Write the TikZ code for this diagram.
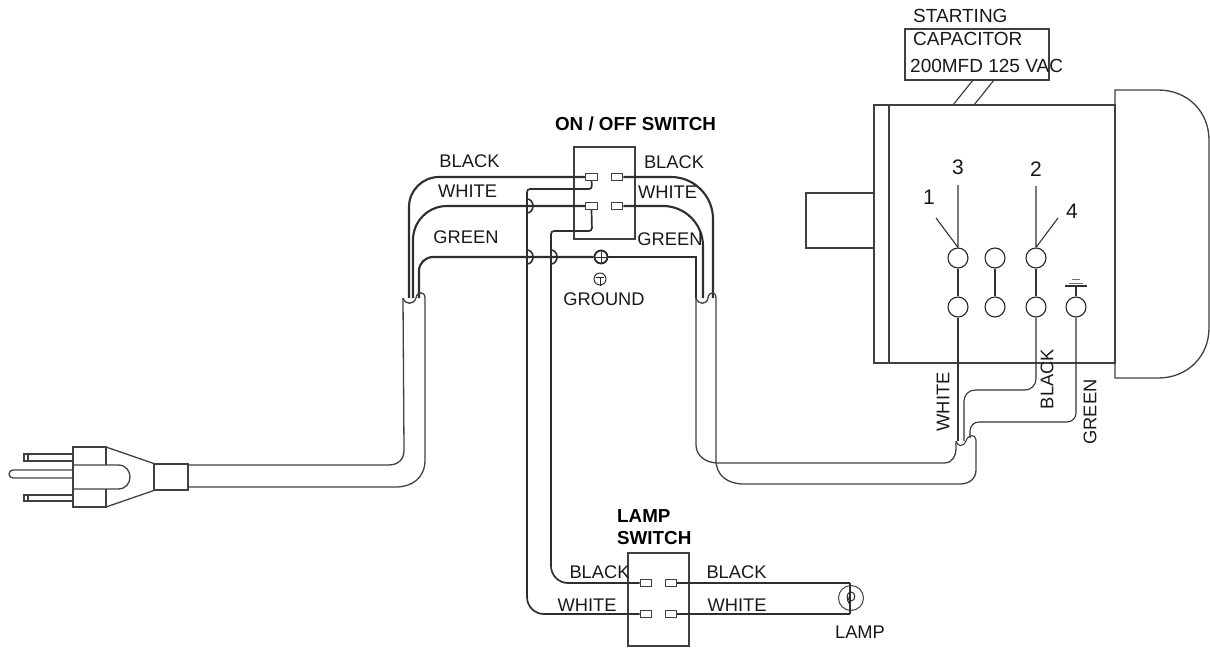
\documentclass[tikz,border=0pt]{standalone}
\usepackage{fontspec}
\setmainfont{Liberation Sans}
\tikzset{
  lbl/.style={inner sep=0pt,font=\fontsize{18.3}{20}\selectfont,text=black!90},
  caplbl/.style={inner sep=0pt,font=\fontsize{19}{20}\selectfont,text=black!90},
  numlbl/.style={inner sep=0pt,font=\fontsize{21}{22}\selectfont,text=black!90},
  blbl/.style={inner sep=0pt,font=\fontsize{18.8}{20}\selectfont\bfseries,text=black},
  wire/.style={draw=black!82,line width=2.1pt,rounded corners=26pt},
  thin wire/.style={draw=black!80,line width=1.1pt},
  outline/.style={draw=black!75,line width=1.3pt},
  term/.style={draw=black!75,line width=1.1pt,fill=white,minimum width=11.5pt,minimum height=6.5pt,inner sep=0pt},
  post/.style={circle,draw=black!85,line width=1.1pt,fill=white,minimum size=20pt,inner sep=0pt},
}
\begin{document}
\begin{tikzpicture}[x=1pt,y=-1pt]
\useasboundingbox (0,0) rectangle (1210,648);
% ---------- named points
\coordinate (LJ) at (409,298); \coordinate (LJ2) at (413,298); \coordinate (LJ3) at (419,298);
\coordinate (RJ) at (713,298); \coordinate (RJ2) at (703,298); \coordinate (RJ3) at (696,298);
\coordinate (MJw) at (958,441); \coordinate (MJb) at (964,441); \coordinate (MJg) at (970,438);
% ---------- switch boxes
\node[draw=black!75,line width=1.1pt,minimum width=61pt,minimum height=92pt,inner sep=0pt] (onoff) at (604.5,193) {};
\node[draw=black!75,line width=1.1pt,minimum width=61pt,minimum height=93pt,inner sep=0pt] (lampsw) at (658.5,599.5) {};
% ---------- terminals
\node[term] (a1) at (591.5,177) {};
\node[term] (a2) at (617,177) {};
\node[term] (a3) at (591.5,206) {};
\node[term] (a4) at (617,206) {};
\node[term] (b1) at (646,583) {};
\node[term] (b2) at (671,583) {};
\node[term] (b3) at (646,614) {};
\node[term] (b4) at (671,614) {};
% ---------- screw and lamp
\node[circle,draw=black!85,line width=1.8pt,fill=white,minimum size=13pt,inner sep=0pt] (screw) at (601,257) {};
\draw[black!80,line width=1pt] (screw.north) -- (screw.south) (screw.west) -- (screw.east);
\node[circle,draw=black!75,line width=1pt,minimum size=25pt,inner sep=0pt] (lamp) at (851,598) {};
\coordinate (lampT) at (850,583); \coordinate (lampB) at (850,614);
% ---------- mains and motor wires inside the left cable
\draw[wire,rounded corners=30pt] (a1.west) -- (409,177) -- (LJ);
\draw[wire,rounded corners=34pt] (a3.west) -- (413,206) -- (LJ2);
\draw[wire,rounded corners=14pt] (screw.west) -- (419,257) -- (LJ3);
\draw[wire,rounded corners=42pt] (a2.east) -- (713,177) -- (RJ);
\draw[wire,rounded corners=40pt] (a4.east) -- (703,206) -- (RJ2);
\draw[wire,rounded corners=0pt] (screw.east) -- (696,257) -- (RJ3);
% ---------- lamp switch wires
\draw[wire,rounded corners=3pt,line width=1.7pt] (a1.south) -- (592,189) -- (527,189) -- (527,300);
\draw[wire,rounded corners=3pt,line width=1.7pt] (a3.south) -- (592,231) -- (551,231) -- (551,300);
\draw[wire,rounded corners=17pt,line width=1.7pt] (527,290) -- (527,614) -- (b3.west);
\draw[wire,rounded corners=17pt,line width=1.7pt] (551,290) -- (551,583) -- (b1.west);
\draw[wire,rounded corners=0pt] (b2.east) -- (lampT);
\draw[wire,rounded corners=0pt] (b4.east) -- (lampB);
\draw[thin wire] (lampT) -- (lampB);
% hops
\draw[wire,rounded corners=0pt,line width=1.6pt] (527,199) arc[start angle=90,end angle=-90,x radius=6pt,y radius=7pt];
\draw[wire,rounded corners=0pt,line width=1.6pt] (527,250) arc[start angle=90,end angle=-90,x radius=6pt,y radius=7pt];
\draw[wire,rounded corners=0pt,line width=1.6pt] (551,250) arc[start angle=90,end angle=-90,x radius=6pt,y radius=7pt];
% filament
\draw[black!85,line width=1pt] (850,605) .. controls (846,600) and (846,592) .. (851,592) .. controls (856,592) and (856,601) .. (851,601) .. controls (848,601) and (848,596) .. (851,596);
% ---------- cables
\draw[outline] (403,298) -- (404,450) .. controls (404,460) and (398,465) .. (388,465) -- (188,465);
\draw[outline] (425,298) -- (425,460) .. controls (425,478) and (412,487) .. (396,487) -- (188,487);
\draw[outline] (403,298) .. controls (405,305) and (414,305) .. (416,298) .. controls (417,291) and (425,291) .. (425,298);
\draw[outline] (696,298) -- (696,445) .. controls (696,456) and (706,463) .. (718,463) -- (945,463) .. controls (952,463) and (956,456) .. (956,448) -- (956,441);
\draw[outline] (716,298) -- (716,460) .. controls (716,476) and (728,484) .. (744,484) -- (960,484) .. controls (970,484) and (976,478) .. (976,470) -- (976,440);
\draw[outline] (696,298) .. controls (698,305) and (707,305) .. (708,298) .. controls (709,291) and (716,291) .. (716,298);
\draw[outline,line width=1.1pt] (956,441) .. controls (957,447) and (964,447) .. (966,441) .. controls (968,434) and (976,434) .. (976,440);
% ---------- plug
\node[outline,minimum width=34pt,minimum height=26pt,inner sep=0pt] (collar) at (171,477) {};
\draw[outline] (106,465) -- (106,447) -- (73,447) -- (73,507) -- (106,507) -- (106,489);
\draw[outline] (106,447) -- (collar.north west) (106,507) -- (collar.south west);
\draw[outline] (73,465) -- (118,465) .. controls (126,465) and (130,471) .. (130,477) .. controls (130,483) and (126,489) .. (118,489) -- (73,489);
\draw[outline] (73,454) -- (24,454) -- (24,461) -- (73,461) (28,454) -- (28,461);
\draw[outline] (73,495) -- (24,495) -- (24,501) -- (73,501) (28,495) -- (28,501);
\draw[outline] (73,470) -- (13,470) arc[start angle=90,end angle=270,radius=4pt] -- (73,478);
% ---------- motor
\draw[outline] (874,105) rectangle (1115,363);
\draw[outline] (889,105) -- (889,363);
\draw[outline] (874,193) -- (806,193) -- (806,248) -- (874,248);
\draw[outline] (1115,90) -- (1158,90) .. controls (1188,90) and (1209,112) .. (1209,140) -- (1209,328) .. controls (1209,356) and (1188,378) .. (1158,378) -- (1115,378) -- cycle;
% capacitor
\node[outline,minimum width=144pt,minimum height=51pt,inner sep=0pt,line width=1.1pt] (cap) at (977,54.5) {};
\coordinate (capA) at (973,80); \coordinate (capB) at (994,80);
\coordinate (motA) at (953,105); \coordinate (motB) at (974,105);
\draw[thin wire] (capA) -- (motA) (capB) -- (motB);
% posts
\node[post] (p1) at (958,258) {};
\node[post] (p2) at (995,258) {};
\node[post] (p3) at (1036,258) {};
\node[post] (q1) at (958,307) {};
\node[post] (q2) at (995,307) {};
\node[post] (q3) at (1036,307) {};
\node[post] (q4) at (1076,307) {};
\draw[thin wire] (p1) -- (q1) (p2) -- (q2) (p3) -- (q3);
\draw[thin wire] (958,185) -- (p1.north) (936,218) -- (p1.north);
\draw[thin wire] (1036,186) -- (p3.north) (1058,218) -- (p3.north);
\draw[thin wire] (q4.north) -- (1076,286);
\draw[thin wire] (1065,286) -- (1087,286);
\draw[black!55,line width=1pt] (1069,283) -- (1083,283) (1072,279.5) -- (1080,279.5);
% motor leads
\draw[thin wire] (q1.south) -- (MJw);
\draw[thin wire,rounded corners=11pt] (q3.south) -- (1036,390) -- (964,390) -- (MJb);
\draw[thin wire,rounded corners=9pt] (q4.south) -- (1076,422) -- (970,422) -- (MJg);
% ---------- ground symbol
\node[circle,draw=black!80,line width=1pt,minimum size=12pt,inner sep=0pt] (gnd) at (600,279) {};
\draw[black!85,line width=1pt] (gnd.center) ++(-4,-1.5) -- ++(8,0) (gnd.center) ++(0,-1.5) -- (gnd.south);
% ---------- labels
\node[blbl] (t1) at (635.5,124) {ON / OFF SWITCH};
\node[lbl] (t2) at (469.5,161) {BLACK};
\node[lbl] (t3) at (467.5,191) {WHITE};
\node[lbl] (t4) at (466,237) {GREEN};
\node[lbl] (t5) at (674,162) {BLACK};
\node[lbl] (t6) at (667.5,192) {WHITE};
\node[lbl] (t7) at (670,239) {GREEN};
\node[lbl] (t8) at (604,299) {GROUND};
\node[blbl,anchor=west] (t9) at (617,516) {LAMP};
\node[blbl,anchor=west] (t10) at (617,538) {SWITCH};
\node[lbl] (t11) at (599.5,572) {BLACK};
\node[lbl] (t12) at (587,605) {WHITE};
\node[lbl] (t13) at (736.5,572) {BLACK};
\node[lbl] (t14) at (737,605) {WHITE};
\node[lbl] (t15) at (860,632) {LAMP};
\node[lbl,rotate=90] (t16) at (943,402) {WHITE};
\node[lbl,rotate=90] (t17) at (1047,379) {BLACK};
\node[lbl,rotate=90] (t18) at (1090,412) {GREEN};
\node[caplbl,anchor=west] (t19) at (913,16) {STARTING};
\node[caplbl,anchor=west] (t20) at (913,39) {CAPACITOR};
\node[caplbl,anchor=west] (t21) at (910,66) {200MFD 125 VAC};
\node[numlbl] (n3) at (958,167) {3};
\node[numlbl] (n2) at (1036,169) {2};
\node[numlbl] (n1) at (929,197) {1};
\node[numlbl] (n4) at (1072,211) {4};
\end{tikzpicture}
\end{document}
